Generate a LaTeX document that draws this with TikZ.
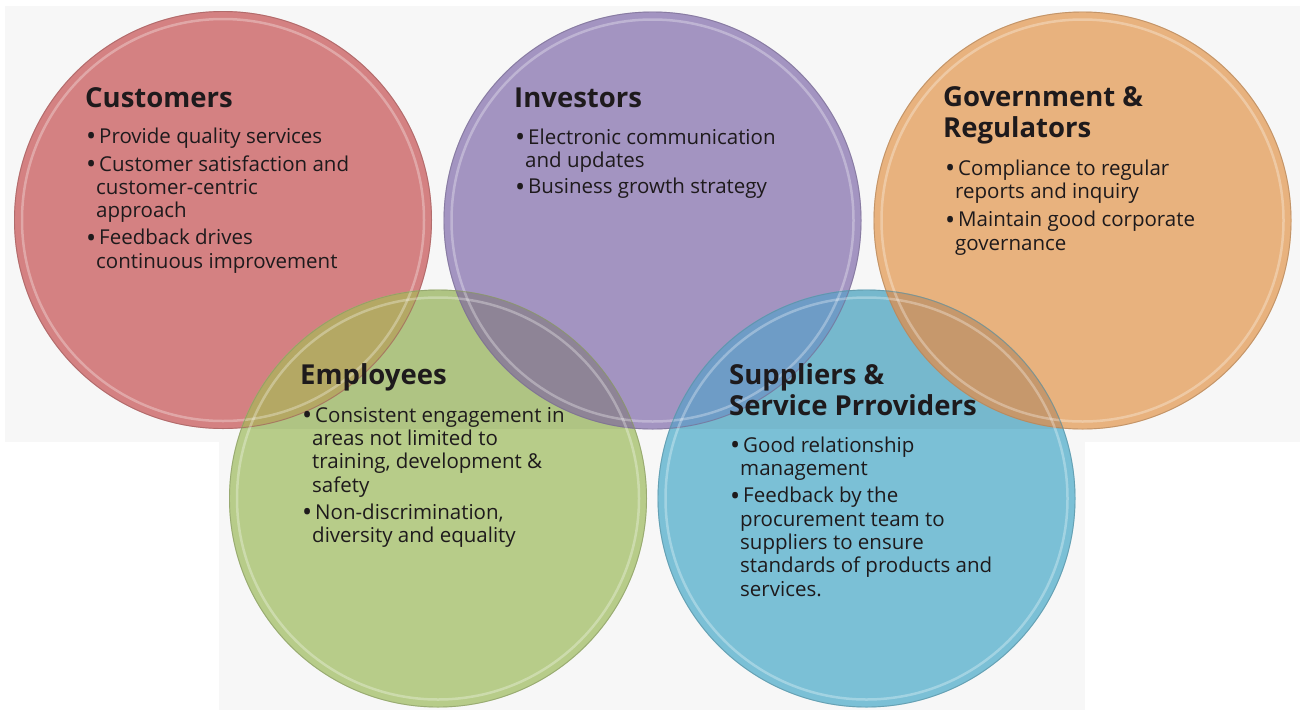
\documentclass[tikz,border=0pt]{standalone}
\usepackage{fontspec}
\setmainfont{Open Sans}
\newfontfamily\boldopen{Open Sans}[UprightFont=* Bold]
\definecolor{bandgray}{RGB}{247,247,247}
\definecolor{cred}{RGB}{212,129,130}
\definecolor{cpurple}{RGB}{163,148,193}
\definecolor{corange}{RGB}{232,178,126}
\definecolor{cgreen}{RGB}{183,204,137}
\definecolor{cblue}{RGB}{123,192,214}
\definecolor{lensRG}{RGB}{180,168,100}
\definecolor{lensPG}{RGB}{142,132,150}
\definecolor{lensPB}{RGB}{110,156,198}
\definecolor{lensOB}{RGB}{198,152,108}
\definecolor{txt}{RGB}{30,26,28}
\newcommand\titlesize{\fontsize{27.5}{31}\selectfont}
\newcommand\bodysize{\fontsize{20.5}{23.3}\selectfont}
\newcommand\bul{\rule{0pt}{16pt}\makebox[13pt][l]{{\fontsize{27}{0}\selectfont\raisebox{-2.2pt}{\textbullet}}}}
\newcommand\cont{\hspace*{10pt}}
\tikzset{
  ttl/.style={font=\boldopen\titlesize, text=txt, anchor=base west, inner sep=0pt, align=left},
  body/.style={font=\bodysize, text=txt, anchor=north west, inner sep=0pt, align=left},
  disc/.style={fill=#1},
  rimout/.style={draw=#1!75!black, line width=0.9pt, draw opacity=0.65},
  rimin/.style={draw=white, line width=2.5pt, draw opacity=0.3}
}
\begin{document}
\begin{tikzpicture}[x=1pt,y=-1pt]
\useasboundingbox (0,0) rectangle (1300,710);
\fill[white] (0,0) rectangle (1300,710);
\fill[bandgray] (5,6) rectangle (1300,442);
\fill[bandgray] (219,442) rectangle (1085,710);
\coordinate (cR) at (223,220);
\coordinate (cP) at (652.5,220.5);
\coordinate (cO) at (1082.5,220.5);
\coordinate (cG) at (438,498.5);
\coordinate (cB) at (866.5,498.5);
\def\rad{209}
% discs
\fill[disc=cred] (cR) circle (\rad);
\fill[disc=cpurple] (cP) circle (\rad);
\fill[disc=corange] (cO) circle (\rad);
\fill[disc=cgreen] (cG) circle (\rad);
\fill[disc=cblue] (cB) circle (\rad);
% band darkening over lower discs
\begin{scope}
  \clip (cG) circle (\rad) (cB) circle (\rad);
  \fill[black, opacity=0.04] (0,0) rectangle (1300,429);
\end{scope}
% lenses
\begin{scope}\clip (cG) circle (\rad); \fill[lensRG] (cR) circle (\rad); \end{scope}
\begin{scope}\clip (cG) circle (\rad); \fill[lensPG] (cP) circle (\rad); \end{scope}
\begin{scope}\clip (cB) circle (\rad); \fill[lensPB] (cP) circle (\rad); \end{scope}
\begin{scope}\clip (cB) circle (\rad); \fill[lensOB] (cO) circle (\rad); \end{scope}
% rims
\foreach \c/\col in {cR/cred,cP/cpurple,cO/corange,cG/cgreen,cB/cblue}{
  \draw[rimin] (\c) circle (\rad-8);
  \draw[rimout=\col] (\c) circle (\rad-0.5);
}
% Customers
\node[ttl] (tcust) at (85,107) {Customers};
\node[body] (bcust) at (86,127) {\bul Provide quality services\\[4.5pt]
\bul Customer satisfaction and\\
\cont customer-centric\\
\cont approach\\[4pt]
\bul Feedback drives\\
\cont continuous improvement};
% Investors
\node[ttl] (tinv) at (514,107) {Investors};
\node[body] (binv) at (515,128) {\bul Electronic communication\\
\cont and updates\\[3pt]
\bul Business growth strategy};
% Government
\node[ttl] (tgov) at (943,137) {Government \&\\Regulators};
\node[body] (bgov) at (945,159) {\bul Compliance to regular\\
\cont reports and inquiry\\[5pt]
\bul Maintain good corporate\\
\cont governance};
% Employees
\node[ttl] (temp) at (300,384) {Employees};
\node[body] (bemp) at (302,406) {\bul Consistent engagement in\\
\cont areas not limited to\\
\cont training, development \&\\
\cont safety\\[4pt]
\bul Non-discrimination,\\
\cont diversity and equality};
% Suppliers
\node[ttl] (tsup) at (729,415) {Suppliers \&\\Service Prroviders};
\node[body] (bsup) at (730,436) {\bul Good relationship\\
\cont management\\[4pt]
\bul Feedback by the\\
\cont procurement team to\\
\cont suppliers to ensure\\
\cont standards of products and\\
\cont services.};
\end{tikzpicture}
\end{document}
